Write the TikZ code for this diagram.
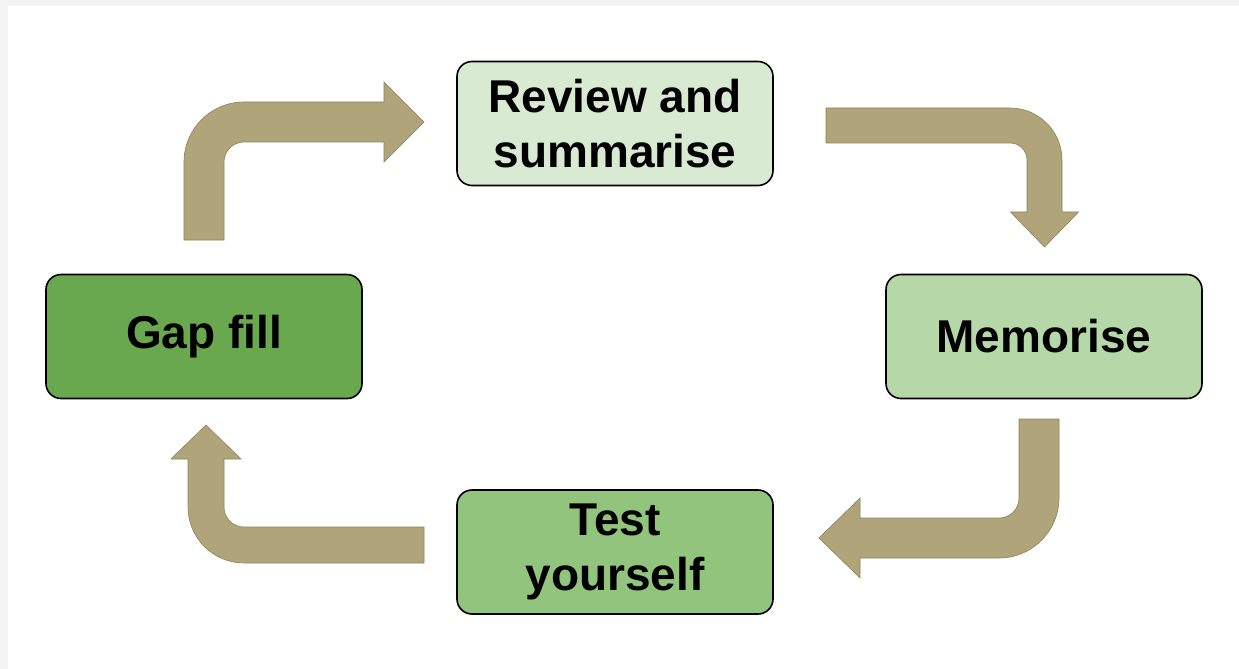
\documentclass[tikz,border=0pt]{standalone}
\usepackage{fontspec}
\setmainfont{Liberation Sans}
\definecolor{bgGray}{HTML}{F3F3F3}
\definecolor{cReview}{HTML}{D9EAD3}
\definecolor{cMemo}{HTML}{B6D7A8}
\definecolor{cTest}{HTML}{93C47D}
\definecolor{cGap}{HTML}{6AA84F}
\definecolor{cArrow}{HTML}{B0A47A}
\definecolor{cArrowEdge}{HTML}{8F8258}
\tikzset{
  stepbox/.style={draw=black, line width=1.6bp, rounded corners=15bp,
    minimum width=316bp, minimum height=124bp, inner sep=0pt, align=center,
    font=\fontsize{46bp}{55bp}\selectfont\bfseries},
  bentarrow/.style={fill=cArrow, draw=cArrowEdge, line width=0.6bp, line join=miter}
}
\begin{document}
\begin{tikzpicture}[x=1bp,y=-1bp]
\useasboundingbox (0,0) rectangle (1239,669);
\fill[bgGray] (0,0) rectangle (1239,669);
\fill[white] (8,6) rectangle (1239,669);

% boxes
\node[stepbox, fill=cReview] (review) at (615,123.5) {Review and\\summarise};
\node[stepbox, fill=cMemo] (memo) at (1044,336.5) {Memorise};
\node[stepbox, fill=cTest] (test) at (615,552) {Test\\yourself};
\node[stepbox, fill=cGap] (gap) at (204,336.5) {Gap fill};

% bent block arrows
% Gap fill -> Review
\draw[bentarrow] (184,240) -- (184,162) arc[start angle=180, end angle=270, radius=60]
  -- (384,102) -- (384,82) -- (424,122) -- (384,162) -- (384,142) -- (244,142)
  arc[start angle=270, end angle=180, radius=20] -- (224,240) -- cycle;
% Review -> Memorise
\draw[bentarrow] (826,108) -- (1010,108) arc[start angle=270, end angle=360, radius=52]
  -- (1062,212) -- (1078.5,212) -- (1044.5,247) -- (1010.5,212) -- (1027,212) -- (1027,160)
  arc[start angle=0, end angle=-90, radius=17] -- (826,143) -- cycle;
% Memorise -> Test
\draw[bentarrow] (1019,419) -- (1059,419) -- (1059,498) arc[start angle=0, end angle=90, radius=60]
  -- (860,558) -- (860,578) -- (819,538) -- (860,498) -- (860,518) -- (999,518)
  arc[start angle=90, end angle=0, radius=20] -- cycle;
% Test -> Gap fill
\draw[bentarrow] (424,527) -- (244,527) arc[start angle=90, end angle=180, radius=20]
  -- (224,459) -- (241,459) -- (206,425) -- (171,459) -- (188,459) -- (188,507)
  arc[start angle=180, end angle=90, radius=56] -- (424,563) -- cycle;
\end{tikzpicture}
\end{document}
